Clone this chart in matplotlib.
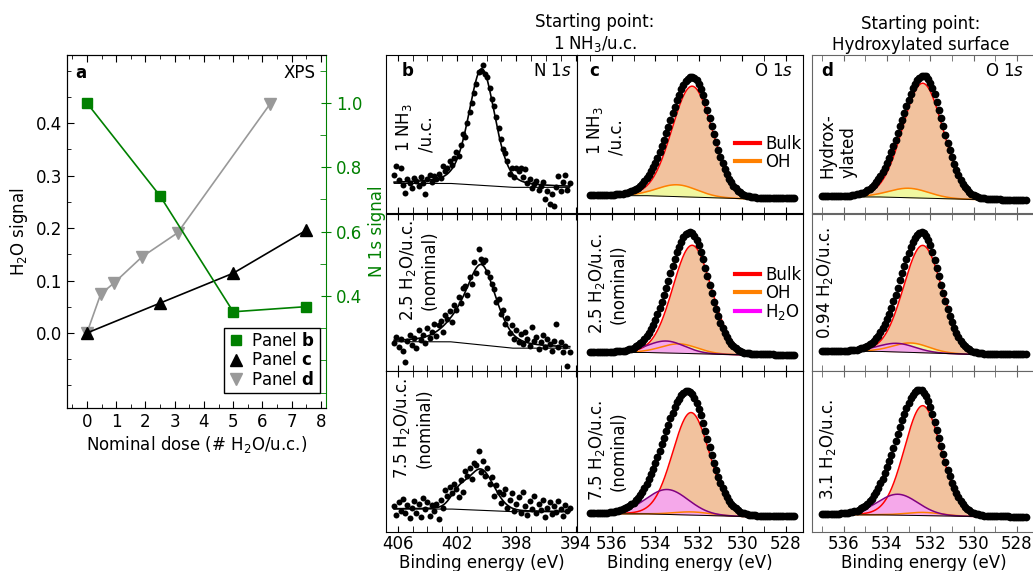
import numpy as np
import matplotlib
matplotlib.use("Agg")
import matplotlib.pyplot as plt
from matplotlib.lines import Line2D
from matplotlib.ticker import MultipleLocator, FixedLocator

plt.rcParams['font.family'] = ['DejaVu Sans']
plt.rcParams['font.size'] = 12
plt.rcParams['mathtext.default'] = 'regular'

# ---------- panel a: XPS signals vs nominal dose ----------
dose_b = [0, 2.5, 5, 7.5]
n1s_signal_b = [1.0, 0.711, 0.351, 0.367]
dose_c = [0, 2.5, 5, 7.5]
h2o_signal_c = [0.0, 0.057, 0.114, 0.196]
dose_d = [0, 0.47, 0.94, 1.88, 3.1, 6.25]
h2o_signal_d = [0.0, 0.074, 0.096, 0.145, 0.191, 0.436]

# ---------- N 1s spectra (panel b), normalised intensity ----------
n1s_start, n1s_step = 406.25, 0.15
n1s_b1 = [0.245, 0.300, 0.210, 0.290, 0.180, 0.128, 0.215, 0.190, 0.160, 0.225,
          0.205, 0.175, 0.230, 0.195, 0.125, 0.215, 0.240, 0.200, 0.235, 0.215,
          0.250, 0.225, 0.300, 0.265, 0.290, 0.330, 0.305, 0.350, 0.385, 0.360,
          0.430, 0.500, 0.480, 0.570, 0.640, 0.700, 0.760, 0.820, 0.895, 0.900,
          0.935, 0.880, 0.860, 0.790, 0.720, 0.680, 0.610, 0.540, 0.470, 0.410,
          0.380, 0.330, 0.250, 0.285, 0.230, 0.290, 0.270, 0.290, 0.230, 0.280,
          0.195, 0.215, 0.160, 0.185, 0.205, 0.150, 0.175, 0.200, 0.090, 0.140,
          0.060, 0.120, 0.045, 0.170, 0.235, 0.140, 0.200, 0.245, 0.150, 0.190]
n1s_b2 = [0.175, 0.215, 0.150, 0.205, 0.125, 0.060, 0.190, 0.230, 0.165, 0.210,
          0.145, 0.260, 0.195, 0.230, 0.180, 0.275, 0.210, 0.250, 0.300, 0.225,
          0.290, 0.320, 0.250, 0.355, 0.330, 0.380, 0.310, 0.420, 0.390, 0.470,
          0.430, 0.525, 0.540, 0.480, 0.600, 0.555, 0.690, 0.620, 0.773, 0.710,
          0.690, 0.705, 0.630, 0.600, 0.555, 0.520, 0.440, 0.460, 0.360, 0.385,
          0.300, 0.335, 0.240, 0.290, 0.205, 0.260, 0.185, 0.235, 0.170, 0.250,
          0.205, 0.160, 0.280, 0.190, 0.215, 0.140, 0.185, 0.230, 0.150, 0.205,
          0.170, 0.125, 0.190, 0.300, 0.150, 0.185, 0.120, 0.160, 0.030, 0.122]
n1s_b3 = [0.160, 0.105, 0.185, 0.130, 0.205, 0.115, 0.165, 0.090, 0.150, 0.195,
          0.120, 0.175, 0.095, 0.210, 0.140, 0.185, 0.100, 0.165, 0.130, 0.175,
          0.080, 0.200, 0.150, 0.260, 0.225, 0.280, 0.240, 0.300, 0.265, 0.215,
          0.320, 0.250, 0.380, 0.350, 0.395, 0.330, 0.430, 0.415, 0.503, 0.370,
          0.440, 0.345, 0.395, 0.300, 0.340, 0.225, 0.290, 0.250, 0.180, 0.235,
          0.270, 0.150, 0.200, 0.240, 0.130, 0.175, 0.215, 0.120, 0.250, 0.160,
          0.105, 0.190, 0.140, 0.225, 0.115, 0.175, 0.135, 0.200, 0.095, 0.150,
          0.185, 0.110, 0.160, 0.125, 0.195, 0.140, 0.100, 0.170, 0.130, 0.150]

# N 1s fits: background (left, right), main peak (centre, height, fwhm, lorentz mix),
# shoulder (centre, height, fwhm)
b1_bg, b1_main, b1_shoulder = (0.19, 0.165), (400.33, 0.736, 2.1, 0.35), (401.9, 0.0, 1.5)
b2_bg, b2_main, b2_shoulder = (0.186, 0.145), (400.33, 0.49, 2.4, 0.5), (402.0, 0.07, 2.5)
b3_bg, b3_main, b3_shoulder = (0.143, 0.126), (400.4, 0.255, 2.1, 0.2), (401.9, 0.08, 1.3)

# ---------- O 1s spectra (panels c, d), normalised intensity ----------
o1s_start, o1s_step = 537.0, 0.1
o1s_c1 = [0.116, 0.116, 0.116, 0.116, 0.116, 0.116, 0.117, 0.117, 0.118, 0.118,
          0.119, 0.119, 0.120, 0.121, 0.123, 0.125, 0.128, 0.132, 0.136, 0.140,
          0.146, 0.154, 0.164, 0.176, 0.189, 0.204, 0.221, 0.242, 0.265, 0.292,
          0.321, 0.353, 0.387, 0.425, 0.464, 0.506, 0.548, 0.591, 0.633, 0.675,
          0.714, 0.750, 0.783, 0.810, 0.833, 0.849, 0.860, 0.862, 0.858, 0.842,
          0.819, 0.785, 0.746, 0.701, 0.653, 0.602, 0.550, 0.499, 0.448, 0.401,
          0.357, 0.317, 0.280, 0.248, 0.220, 0.196, 0.175, 0.159, 0.145, 0.134,
          0.124, 0.117, 0.112, 0.108, 0.105, 0.103, 0.101, 0.099, 0.098, 0.097,
          0.097, 0.097, 0.097, 0.096, 0.096, 0.096, 0.096, 0.095, 0.095, 0.095,
          0.095, 0.095, 0.095, 0.095, 0.095]
o1s_d1 = [0.108, 0.108, 0.108, 0.108, 0.108, 0.108, 0.109, 0.109, 0.110, 0.110,
          0.111, 0.111, 0.112, 0.113, 0.115, 0.117, 0.120, 0.124, 0.128, 0.132,
          0.138, 0.147, 0.157, 0.169, 0.182, 0.197, 0.215, 0.236, 0.260, 0.287,
          0.317, 0.350, 0.385, 0.424, 0.463, 0.506, 0.549, 0.593, 0.636, 0.678,
          0.718, 0.755, 0.789, 0.817, 0.840, 0.856, 0.867, 0.869, 0.865, 0.848,
          0.825, 0.791, 0.751, 0.705, 0.656, 0.604, 0.551, 0.498, 0.447, 0.399,
          0.354, 0.313, 0.276, 0.243, 0.214, 0.189, 0.169, 0.152, 0.138, 0.126,
          0.117, 0.110, 0.104, 0.100, 0.097, 0.095, 0.093, 0.091, 0.090, 0.089,
          0.089, 0.089, 0.089, 0.088, 0.088, 0.088, 0.088, 0.087, 0.087, 0.087,
          0.087, 0.087, 0.087, 0.087, 0.087]
o1s_c2 = [0.120, 0.120, 0.121, 0.121, 0.121, 0.121, 0.121, 0.121, 0.122, 0.122,
          0.123, 0.123, 0.124, 0.125, 0.126, 0.128, 0.130, 0.133, 0.137, 0.142,
          0.148, 0.156, 0.165, 0.175, 0.187, 0.202, 0.220, 0.242, 0.267, 0.295,
          0.326, 0.361, 0.399, 0.441, 0.483, 0.529, 0.574, 0.621, 0.667, 0.712,
          0.753, 0.790, 0.822, 0.848, 0.868, 0.879, 0.883, 0.875, 0.860, 0.832,
          0.799, 0.756, 0.708, 0.656, 0.602, 0.547, 0.493, 0.441, 0.393, 0.348,
          0.307, 0.271, 0.240, 0.213, 0.191, 0.172, 0.157, 0.145, 0.135, 0.127,
          0.121, 0.117, 0.114, 0.112, 0.110, 0.108, 0.107, 0.107, 0.107, 0.106,
          0.105, 0.105, 0.105, 0.105, 0.105, 0.104, 0.104, 0.104, 0.104, 0.104,
          0.104, 0.104, 0.104, 0.103, 0.103]
o1s_d2 = [0.126, 0.126, 0.127, 0.127, 0.127, 0.127, 0.127, 0.127, 0.128, 0.128,
          0.129, 0.129, 0.130, 0.131, 0.132, 0.134, 0.136, 0.139, 0.143, 0.147,
          0.153, 0.161, 0.170, 0.180, 0.192, 0.207, 0.225, 0.247, 0.271, 0.299,
          0.330, 0.365, 0.402, 0.443, 0.485, 0.530, 0.575, 0.622, 0.667, 0.711,
          0.752, 0.788, 0.820, 0.846, 0.866, 0.877, 0.882, 0.874, 0.859, 0.831,
          0.798, 0.755, 0.707, 0.655, 0.601, 0.546, 0.493, 0.442, 0.394, 0.350,
          0.309, 0.273, 0.242, 0.215, 0.193, 0.174, 0.159, 0.147, 0.137, 0.129,
          0.123, 0.119, 0.116, 0.114, 0.112, 0.110, 0.109, 0.109, 0.109, 0.108,
          0.107, 0.107, 0.107, 0.107, 0.107, 0.106, 0.106, 0.106, 0.106, 0.106,
          0.106, 0.106, 0.106, 0.105, 0.105]
o1s_c3 = [0.116, 0.116, 0.117, 0.117, 0.118, 0.118, 0.119, 0.120, 0.121, 0.122,
          0.124, 0.126, 0.128, 0.132, 0.136, 0.141, 0.146, 0.153, 0.162, 0.172,
          0.183, 0.197, 0.213, 0.231, 0.251, 0.275, 0.300, 0.329, 0.359, 0.392,
          0.427, 0.465, 0.504, 0.545, 0.585, 0.626, 0.666, 0.705, 0.742, 0.775,
          0.805, 0.829, 0.850, 0.865, 0.875, 0.877, 0.872, 0.856, 0.835, 0.803,
          0.766, 0.724, 0.678, 0.629, 0.578, 0.527, 0.478, 0.430, 0.385, 0.343,
          0.306, 0.272, 0.242, 0.216, 0.194, 0.175, 0.159, 0.146, 0.136, 0.127,
          0.120, 0.115, 0.111, 0.108, 0.106, 0.104, 0.103, 0.102, 0.101, 0.100,
          0.100, 0.099, 0.099, 0.099, 0.099, 0.099, 0.099, 0.098, 0.098, 0.098,
          0.098, 0.098, 0.098, 0.098, 0.098]
o1s_d3 = [0.110, 0.110, 0.111, 0.111, 0.112, 0.112, 0.113, 0.113, 0.114, 0.115,
          0.116, 0.117, 0.119, 0.122, 0.125, 0.129, 0.133, 0.139, 0.146, 0.154,
          0.164, 0.177, 0.191, 0.208, 0.227, 0.250, 0.274, 0.302, 0.332, 0.366,
          0.401, 0.441, 0.481, 0.524, 0.566, 0.610, 0.652, 0.694, 0.733, 0.770,
          0.802, 0.830, 0.852, 0.870, 0.881, 0.885, 0.881, 0.866, 0.845, 0.812,
          0.775, 0.732, 0.686, 0.636, 0.585, 0.533, 0.483, 0.434, 0.388, 0.345,
          0.307, 0.272, 0.241, 0.215, 0.192, 0.173, 0.157, 0.144, 0.134, 0.125,
          0.118, 0.113, 0.109, 0.106, 0.104, 0.102, 0.101, 0.100, 0.099, 0.098,
          0.098, 0.097, 0.097, 0.097, 0.097, 0.097, 0.097, 0.096, 0.096, 0.096,
          0.096, 0.096, 0.096, 0.096, 0.096]

# O 1s fit components: background (left, right), (centre, height, fwhm)
c1_bg, c1_bulk, c1_oh, c1_h2o = (0.113, 0.093), (532.3, 0.70, 2.2), (533.0, 0.075, 2.2), None
d1_bg, d1_bulk, d1_oh, d1_h2o = (0.105, 0.088), (532.35, 0.725, 2.2), (533.0, 0.06, 2.2), None
c2_bg, c2_bulk, c2_oh, c2_h2o = (0.118, 0.102), (532.3, 0.688, 2.1), (532.9, 0.06, 2.0), (533.5, 0.076, 2.0)
d2_bg, d2_bulk, d2_oh, d2_h2o = (0.125, 0.105), (532.35, 0.682, 2.1), (532.9, 0.06, 2.0), (533.55, 0.055, 2.0)
c3_bg, c3_bulk, c3_oh, c3_h2o = (0.113, 0.096), (532.35, 0.637, 2.0), (532.3, 0.02, 2.0), (533.45, 0.155, 2.3)
d3_bg, d3_bulk, d3_oh, d3_h2o = (0.107, 0.096), (532.35, 0.683, 2.0), (532.3, 0.02, 2.0), (533.5, 0.13, 2.2)

row_labels_b = ['1 NH$_3$\n/u.c.', '2.5 H$_2$O/u.c.\n(nominal)', '7.5 H$_2$O/u.c.\n(nominal)']
row_labels_c = ['1 NH$_3$\n/u.c.', '2.5 H$_2$O/u.c.\n(nominal)', '7.5 H$_2$O/u.c.\n(nominal)']
row_labels_d = ['Hydrox-\nylated', '0.94 H$_2$O/u.c.', '3.1 H$_2$O/u.c.']

GREEN = '#008000'
GRAY = '#999999'
BULK_LINE, BULK_FILL = '#ff0000', '#f2c29e'
OH_LINE, OH_FILL = '#ff8000', '#f0f7a0'
H2O_LINE, H2O_FILL = '#800080', '#f5a8ea'

W, H = 1033, 571


def box(x0, y0, x1, y1):
    # pixel box of the reference -> figure fraction
    return [x0 / W, 1 - y1 / H, (x1 - x0) / W, (y1 - y0) / H]


def pv(e, centre, height, fwhm, eta=0.05):
    u = (e - centre) / fwhm
    return height * ((1 - eta) * np.exp(-4 * np.log(2) * u ** 2) + eta / (1 + 4 * u ** 2))


def ramp(e, left, right, e_hi, e_lo):
    return right + (left - right) * np.clip((e - e_lo) / (e_hi - e_lo), 0, 1)


n1s_energy = n1s_start - n1s_step * np.arange(len(n1s_b1))
o1s_energy = o1s_start - o1s_step * np.arange(len(o1s_c1))

fig = plt.figure(figsize=(10.33, 5.71), dpi=100)

# ---------- panel a ----------
ax = fig.add_axes(box(67, 55, 326, 408))
ax2 = ax.twinx()
ax.plot(dose_d, h2o_signal_d, color=GRAY, lw=1.2, marker='v', ms=8, zorder=2)
ax.plot(dose_c, h2o_signal_c, color='k', lw=1.2, marker='^', ms=8, zorder=3)
ax2.plot(dose_b, n1s_signal_b, color=GREEN, lw=1.2, marker='s', ms=6.5)
ax.set_xlim(-0.68, 8.17)
ax.set_ylim(-0.143, 0.53)
ax2.set_ylim(0.052, 1.149)
ax.xaxis.set_major_locator(FixedLocator(range(0, 9)))
ax.xaxis.set_minor_locator(MultipleLocator(0.5))
ax.yaxis.set_major_locator(FixedLocator([0.0, 0.1, 0.2, 0.3, 0.4]))
ax.yaxis.set_minor_locator(MultipleLocator(0.05))
ax.tick_params(which='both', direction='in', top=True, right=False)
ax.tick_params(which='major', length=5)
ax.tick_params(which='minor', length=3)
ax.spines['right'].set_visible(False)
ax2.yaxis.set_major_locator(FixedLocator([0.4, 0.6, 0.8, 1.0]))
ax2.yaxis.set_minor_locator(MultipleLocator(0.1))
ax2.tick_params(which='major', direction='inout', length=7, color=GREEN, labelcolor=GREEN)
ax2.tick_params(which='minor', direction='in', length=4, color=GREEN)
ax2.spines['right'].set_color(GREEN)
ax.set_xlabel('Nominal dose (# H$_2$O/u.c.)', labelpad=2)
ax.set_ylabel('H$_2$O signal')
ax2.set_ylabel('N 1s signal', color=GREEN)
ax.text(0.03, 0.95, 'a', transform=ax.transAxes, fontweight='bold', va='center', ha='left')
ax.text(0.958, 0.95, 'XPS', transform=ax.transAxes, va='center', ha='right')
handles = [Line2D([], [], color=GREEN, marker='s', ls='none', ms=6.5),
           Line2D([], [], color='k', marker='^', ls='none', ms=8),
           Line2D([], [], color=GRAY, marker='v', ls='none', ms=8)]
leg = ax2.legend(handles, [r'Panel $\mathbf{b}$', r'Panel $\mathbf{c}$', r'Panel $\mathbf{d}$'],
                 loc='lower right', bbox_to_anchor=(0.975, 0.042), fancybox=False,
                 edgecolor='k', framealpha=1, handlelength=1.0, handletextpad=0.4,
                 labelspacing=0.1, borderpad=0.25, borderaxespad=0)
leg.get_frame().set_linewidth(1.0)

# ---------- panels b, c, d ----------
cols = [(386, 577), (577, 803), (812, 1036.5)]
rows = [(55, 213.5), (213.5, 371), (371, 532)]
xlim_b = (406.8, 393.9)
xlim_c = (537.6, 527.2)
xlim_d = (537.46, 527.1)

n1s_sets = [(n1s_b1, b1_bg, b1_main, b1_shoulder),
            (n1s_b2, b2_bg, b2_main, b2_shoulder),
            (n1s_b3, b3_bg, b3_main, b3_shoulder)]
o1s_c_sets = [(o1s_c1, c1_bg, c1_bulk, c1_oh, c1_h2o),
              (o1s_c2, c2_bg, c2_bulk, c2_oh, c2_h2o),
              (o1s_c3, c3_bg, c3_bulk, c3_oh, c3_h2o)]
o1s_d_sets = [(o1s_d1, d1_bg, d1_bulk, d1_oh, d1_h2o),
              (o1s_d2, d2_bg, d2_bulk, d2_oh, d2_h2o),
              (o1s_d3, d3_bg, d3_bulk, d3_oh, d3_h2o)]


def style_spectrum(a, last_row, color='k'):
    a.set_ylim(0, 1)
    a.set_yticks([])
    a.xaxis.set_minor_locator(MultipleLocator(1))
    a.tick_params(axis='x', which='both', direction='in', top=True, color=color, pad=2.5)
    a.tick_params(axis='x', which='major', length=4.5)
    a.tick_params(axis='x', which='minor', length=4)
    for s in a.spines.values():
        s.set_color(color)
    if last_row:
        a.set_xlabel('Binding energy (eV)', labelpad=0.5)
    else:
        a.tick_params(axis='x', labelbottom=False)


def draw_n1s(a, data, bg, main, shoulder):
    e = np.arange(406.25, 394.39, -0.02)
    base = ramp(e, bg[0], bg[1], 402.5, 398.3)
    fit = base + pv(e, *main) + pv(e, *shoulder, eta=0.0)
    a.plot(e, base, color='k', lw=0.8)
    a.plot(e, fit, color='k', lw=1.2)
    a.plot(n1s_energy, data, 'o', color='k', ms=4.3, mew=0)
    a.set_xlim(*xlim_b)
    a.xaxis.set_major_locator(FixedLocator([406, 402, 398, 394]))


def draw_o1s(a, data, bg, bulk, oh, h2o, xlim):
    e = np.arange(537.0, 527.59, -0.02)
    base = ramp(e, bg[0], bg[1], 534.5, 530.0)
    for p, lc, fc in [(bulk, BULK_LINE, BULK_FILL), (oh, OH_LINE, OH_FILL), (h2o, H2O_LINE, H2O_FILL)]:
        if p is None:
            continue
        y = base + pv(e, *p)
        a.fill_between(e, base, y, color=fc, lw=0)
        a.plot(e, y, color=lc, lw=1.1)
    a.plot(e, base, color='k', lw=0.7)
    a.plot(o1s_energy, data, 'o', color='k', ms=5.6, mew=0)
    a.set_xlim(*xlim)
    a.xaxis.set_major_locator(FixedLocator([536, 534, 532, 530, 528]))


b_label_pos = [(0.15, 0.39, 'bottom', 'left'), (0.168, 0.96, 'top', 'center'), (0.14, 0.957, 'top', 'center')]
c_label_pos = [(0.124, 0.37, 'bottom', 'left'), (0.133, 0.876, 'top', 'center'), (0.133, 0.82, 'top', 'center')]
d_label_pos = [(0.115, 0.634, 'top', 'left'), (0.06, 0.914, 'top', 'center'), (0.07, 0.83, 'top', 'center')]

for r, (y0, y1) in enumerate(rows):
    last = r == 2
    ab = fig.add_axes(box(cols[0][0], y0, cols[0][1], y1))
    draw_n1s(ab, *n1s_sets[r])
    style_spectrum(ab, last)
    ac = fig.add_axes(box(cols[1][0], y0, cols[1][1], y1))
    draw_o1s(ac, *o1s_c_sets[r], xlim_c)
    style_spectrum(ac, last)
    ad = fig.add_axes(box(cols[2][0], y0, cols[2][1], y1))
    draw_o1s(ad, *o1s_d_sets[r], xlim_d)
    style_spectrum(ad, last, color='#666666')

    for a, labels, pos in [(ab, row_labels_b, b_label_pos), (ac, row_labels_c, c_label_pos),
                           (ad, row_labels_d, d_label_pos)]:
        x, y, va, ma = pos[r]
        a.text(x, y, labels[r], transform=a.transAxes, rotation=90, ha='center', va=va,
               multialignment=ma)

    if r == 0:
        ab.text(0.084, 0.9, 'b', transform=ab.transAxes, fontweight='bold', va='center')
        ac.text(0.053, 0.9, 'c', transform=ac.transAxes, fontweight='bold', va='center')
        ad.text(0.04, 0.9, 'd', transform=ad.transAxes, fontweight='bold', va='center')
        ab.text(0.974, 0.9, r'N 1$\mathit{s}$', transform=ab.transAxes, va='center', ha='right')
        ac.text(0.956, 0.9, r'O 1$\mathit{s}$', transform=ac.transAxes, va='center', ha='right')
        ad.text(0.945, 0.9, r'O 1$\mathit{s}$', transform=ad.transAxes, va='center', ha='right')
        ac.legend([Line2D([], [], color=BULK_LINE, lw=3), Line2D([], [], color=OH_LINE, lw=3)],
                  ['Bulk', 'OH'], loc='center left', bbox_to_anchor=(0.70, 0.38), frameon=False,
                  handlelength=1.5, handletextpad=0.3, labelspacing=0.0, borderpad=0,
                  borderaxespad=0)
    if r == 1:
        ac.legend([Line2D([], [], color=BULK_LINE, lw=3), Line2D([], [], color=OH_LINE, lw=3),
                   Line2D([], [], color='#ff00ff', lw=3)],
                  ['Bulk', 'OH', 'H$_2$O'], loc='center left', bbox_to_anchor=(0.70, 0.49),
                  frameon=False, handlelength=1.5, handletextpad=0.3, labelspacing=0.0,
                  borderpad=0, borderaxespad=0)

fig.text(595 / W, 0.906, 'Starting point:\n1 NH$_3$/u.c.', ha='center', va='bottom',
         multialignment='center')
fig.text(921 / W, 0.906, 'Starting point:\nHydroxylated surface', ha='center', va='bottom',
         multialignment='center')

fig.savefig('out.png', dpi=100)
